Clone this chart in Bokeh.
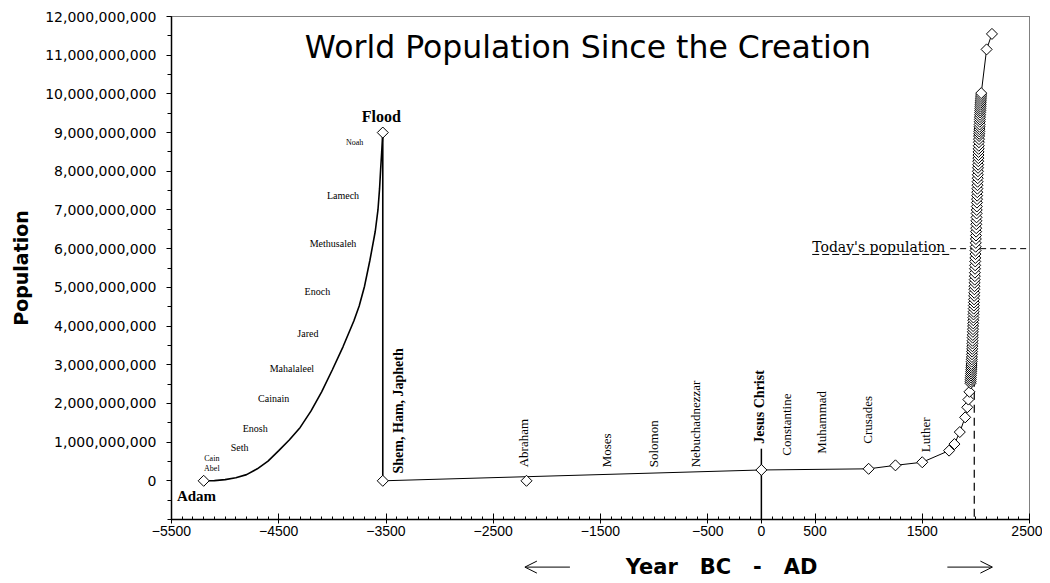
import math
from bokeh.plotting import figure
from bokeh.layouts import column
from bokeh.models import (FixedTicker, NumeralTickFormatter, Label, Range1d,
                          Arrow, OpenHead, ColumnDataSource)
from bokeh.core.properties import value
from bokeh.embed import file_html
from bokeh.resources import INLINE

BN = 1e9

# ---------------- data (population in billions) ----------------
# pre-flood growth curve, Adam -> Flood
preflood_years = [-5200, -5100, -5000, -4900, -4800, -4700, -4600, -4500, -4400,
                  -4300, -4200, -4100, -4000, -3900, -3800, -3750, -3700, -3650,
                  -3600, -3575, -3560, -3550, -3540, -3530]
preflood_pop = [0.00, 0.005, 0.03, 0.08, 0.16, 0.31, 0.51, 0.78, 1.06,
                1.38, 1.80, 2.30, 2.87, 3.47, 4.13, 4.52, 5.03, 5.70,
                6.45, 7.00, 7.55, 8.05, 8.50, 9.00]

adam_year, adam_pop = -5200, 0.0
flood_year, flood_pop = -3530, 9.0
abraham_year, abraham_pop = -2190, 0.0
jesus_line_top = 0.83

# post-flood series
post_years = [-3530, 0, 1000, 1250, 1500, 1750, 1800, 1850, 1900, 1920, 1930, 1940,
              1950, 1951, 1952, 1953, 1954, 1955, 1956, 1957, 1958, 1959,
              1960, 1961, 1962, 1963, 1964, 1965, 1966, 1967, 1968, 1969,
              1970, 1971, 1972, 1973, 1974, 1975, 1976, 1977, 1978, 1979,
              1980, 1981, 1982, 1983, 1984, 1985, 1986, 1987, 1988, 1989,
              1990, 1991, 1992, 1993, 1994, 1995, 1996, 1997, 1998, 1999,
              2000, 2001, 2002, 2003, 2004, 2005, 2006, 2007, 2008, 2009,
              2010, 2011, 2012, 2013, 2014, 2015, 2016, 2017, 2018, 2019,
              2020, 2021, 2022, 2023, 2024, 2025, 2026, 2027, 2028, 2029,
              2030, 2031, 2032, 2033, 2034, 2035, 2036, 2037, 2038, 2039,
              2040, 2041, 2042, 2043, 2044, 2045, 2046, 2047, 2048, 2049,
              2050, 2100, 2150]
post_pop = [0.0, 0.28, 0.31, 0.40, 0.48, 0.78, 0.95, 1.26, 1.64, 1.90, 2.10, 2.30,
            2.52, 2.57, 2.62, 2.67, 2.72, 2.77, 2.82, 2.87, 2.92, 2.97,
            3.02, 3.08, 3.14, 3.20, 3.27, 3.34, 3.41, 3.48, 3.55, 3.62,
            3.70, 3.77, 3.85, 3.92, 4.00, 4.07, 4.15, 4.22, 4.30, 4.37,
            4.45, 4.53, 4.61, 4.69, 4.78, 4.86, 4.95, 5.03, 5.12, 5.20,
            5.29, 5.38, 5.48, 5.57, 5.67, 5.76, 5.86, 5.95, 6.05, 6.15,
            6.25, 6.34, 6.44, 6.53, 6.63, 6.72, 6.81, 6.91, 7.00, 7.09,
            7.19, 7.28, 7.37, 7.46, 7.55, 7.64, 7.73, 7.82, 7.91, 8.00,
            8.09, 8.17, 8.26, 8.34, 8.42, 8.50, 8.58, 8.66, 8.75, 8.83,
            8.91, 8.97, 9.03, 9.09, 9.15, 9.21, 9.28, 9.34, 9.40, 9.46,
            9.52, 9.57, 9.62, 9.67, 9.72, 9.77, 9.82, 9.87, 9.92, 9.97,
            10.02, 11.15, 11.55]

today_year, today_pop = 1985, 6.0

# names along the pre-flood curve
curve_names = ["Lamech", "Methusaleh", "Enoch", "Jared", "Mahalaleel", "Cainain", "Enosh", "Seth"]
curve_name_years = [-3901, -3994, -4140, -4228, -4377, -4548, -4719, -4865]
curve_name_pops = [7.37, 6.13, 4.89, 3.80, 2.91, 2.13, 1.36, 0.87]
small_names = ["Noah", "Cain", "Abel"]
small_name_years = [-3792, -5124, -5124]
small_name_pops = [8.74, 0.58, 0.33]

# vertical era labels
era_names = ["Abraham", "Moses", "Solomon", "Nebuchadnezzar", "Constantine", "Muhammad", "Crusades", "Luther"]
era_years = [-2221, -1442, -1007, -618, 238, 565, 985, 1529]
era_pops = [0.35, 0.35, 0.35, 0.35, 0.65, 0.70, 0.96, 0.74]
bold_era_names = ["Shem, Ham, Japheth", "Jesus Christ"]
bold_era_years = [-3388, -22]
bold_era_pops = [0.19, 0.96]

x_major_ticks = [-5500, -4500, -3500, -2500, -1500, -500, 0, 500, 1500, 2500]
x_minor_ticks = list(range(-5500, 2501, 100))
y_major_ticks = [i * BN for i in range(0, 13)]
y_minor_ticks = [i * 0.5 * BN for i in range(-2, 25)]

x_caption = "Year\u00a0\u00a0\u00a0BC\u00a0\u00a0\u00a0-\u00a0\u00a0\u00a0AD"

# ---------------- main figure ----------------
xr = Range1d(-5500, 2500)
p = figure(width=1042, height=545, x_range=xr, y_range=Range1d(-1 * BN, 12 * BN),
           output_backend="svg", toolbar_location=None,
           min_border_left=171, min_border_right=13, min_border_top=16, min_border_bottom=26)
p.xgrid.visible = False
p.ygrid.visible = False
p.outline_line_color = "black"
p.outline_line_dash = "1 1"
p.outline_line_width = 1
p.background_fill_color = "white"
p.border_fill_color = "white"

xa = p.xaxis[0]
xa.ticker = FixedTicker(ticks=x_major_ticks, minor_ticks=x_minor_ticks)
xa.axis_line_color = "black"
xa.axis_line_width = 1.5
xa.major_tick_in = 6
xa.major_tick_out = 4
xa.minor_tick_in = 3
xa.minor_tick_out = 0
xa.major_tick_line_color = "black"
xa.minor_tick_line_color = "black"
xa.major_label_standoff = 2
xa.major_label_text_font = "Liberation Sans"
xa.major_label_text_font_size = "14px"
xa.major_label_text_color = "black"

ya = p.yaxis[0]
ya.ticker = FixedTicker(ticks=y_major_ticks, minor_ticks=y_minor_ticks)
ya.formatter = NumeralTickFormatter(format="0,0")
ya.axis_line_color = "black"
ya.axis_line_width = 1.5
ya.major_tick_in = 0
ya.major_tick_out = 5
ya.minor_tick_in = 0
ya.minor_tick_out = 4
ya.major_tick_line_color = "black"
ya.minor_tick_line_color = "black"
ya.major_label_standoff = 10
ya.major_label_text_font = "DejaVu Sans"
ya.major_label_text_font_size = "14px"
ya.major_label_text_color = "black"
ya.axis_label = "Population"
ya.axis_label_text_font = "DejaVu Sans"
ya.axis_label_text_font_style = "bold"
ya.axis_label_text_font_size = "19px"
ya.axis_label_text_color = "black"
ya.axis_label_standoff = 10

# ---------------- lines ----------------
pre_src = ColumnDataSource(dict(x=preflood_years, y=[v * BN for v in preflood_pop]))
p.line("x", "y", source=pre_src, line_color="black", line_width=1.6)

# flood drop
p.line([flood_year, flood_year], [flood_pop * BN, 0], line_color="black", line_width=1.6)

post_src = ColumnDataSource(dict(x=post_years, y=[v * BN for v in post_pop]))
p.line("x", "y", source=post_src, line_color="black", line_width=1)

# Jesus Christ vertical line
p.line([0, 0], [jesus_line_top * BN, -1 * BN], line_color="black", line_width=1.5)

# today's population dashed lines
p.line([today_year, today_year], [today_pop * BN, -1 * BN], line_color="black", line_width=1.2,
       line_dash="8 5")
label_start, label_end = 474, 1760
p.line([label_end, 2500], [today_pop * BN, today_pop * BN], line_color="black", line_width=1,
       line_dash="6 4")
p.line([label_start, label_end], [(today_pop - 0.15) * BN] * 2, line_color="black", line_width=1,
       line_dash="7 3")

# ---------------- markers ----------------
mark_x = [adam_year, flood_year, flood_year, abraham_year] + post_years[1:]
mark_y = [adam_pop * BN, flood_pop * BN, 0, abraham_pop * BN] + [v * BN for v in post_pop[1:]]
p.scatter(mark_x, mark_y, marker="square", angle=math.pi / 4, size=7.8,
          fill_color="white", line_color="black", line_width=1)

# ---------------- texts ----------------
serif = value("Liberation Serif")
p.text(curve_name_years, [v * BN for v in curve_name_pops], text=curve_names,
       text_font=serif, text_font_size="10px", text_align="center", text_baseline="middle",
       text_color="black")
p.text(small_name_years, [v * BN for v in small_name_pops], text=small_names,
       text_font=serif, text_font_size="8px", text_align="center", text_baseline="middle",
       text_color="black")
p.text(era_years, [v * BN for v in era_pops], text=era_names, angle=math.pi / 2,
       text_font=serif, text_font_size="13px", text_align="left", text_baseline="middle",
       text_color="black")
p.text(bold_era_years, [v * BN for v in bold_era_pops], text=bold_era_names, angle=math.pi / 2,
       text_font=serif, text_font_size="14px", text_font_style="bold", text_align="left",
       text_baseline="middle", text_color="black")

p.add_layout(Label(x=flood_year - 13, y=9.42 * BN, text="Flood", text_font="Liberation Serif",
                   text_font_size="16px", text_font_style="bold", text_align="center",
                   text_baseline="middle", text_color="black"))
p.add_layout(Label(x=-5267, y=-0.40 * BN, text="Adam", text_font="Liberation Serif",
                   text_font_size="15px", text_font_style="bold", text_align="center",
                   text_baseline="middle", text_color="black"))
p.add_layout(Label(x=label_start, y=(today_pop + 0.04) * BN, text="Today's population",
                   text_font="DejaVu Serif", text_font_size="14px", text_align="left",
                   text_baseline="alphabetic", text_color="black"))

p.add_layout(Label(x=-1617, y=11.2 * BN, text="World Population Since the Creation",
                   text_font="DejaVu Sans", text_font_size="31.5px", text_align="center",
                   text_baseline="middle", text_color="black"))

# ---------------- caption strip below the axis ----------------
cap = figure(width=1042, height=36, x_range=xr, y_range=Range1d(0, 1),
             output_backend="svg", toolbar_location=None,
             x_axis_type=None, y_axis_type=None,
             min_border_left=171, min_border_right=13, min_border_top=0, min_border_bottom=0)
cap.grid.visible = False
cap.outline_line_color = None
cap.background_fill_color = "white"
cap.border_fill_color = "white"
cap.text([-371], [0.40], text=[x_caption], text_font=value("DejaVu Sans"),
         text_font_size="21px", text_font_style="bold", text_align="center",
         text_baseline="middle", text_color="black")
cap.add_layout(Arrow(end=OpenHead(size=12, line_color="black", line_width=1),
                     x_start=-1785, x_end=-2205, y_start=0.40, y_end=0.40,
                     line_color="black", line_width=1))
cap.add_layout(Arrow(end=OpenHead(size=12, line_color="black", line_width=1),
                     x_start=1734, x_end=2154, y_start=0.40, y_end=0.40,
                     line_color="black", line_width=1))

layout = column(p, cap, spacing=0)
open("out.html", "w").write(file_html(layout, INLINE))
